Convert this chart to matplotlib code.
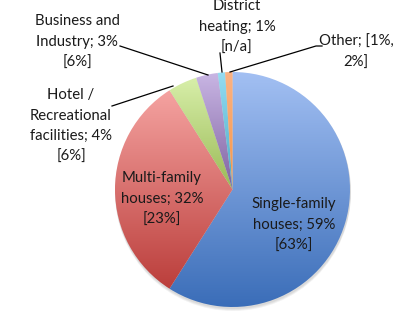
import numpy as np
import matplotlib
matplotlib.use("Agg")
import matplotlib.pyplot as plt
from matplotlib.colors import LinearSegmentedColormap
from matplotlib.patches import Circle

# === Data ===

categories = [
    "Single-family\nhouses",
    "Multi-family\nhouses",
    "Hotel /\nRecreational\nfacilities",
    "Business and\nIndustry",
    "District\nheating",
    "Other",
]
shares = [59, 32, 4, 3, 1, 1]
share_text = ["59%", "32%", "4%", "3%", "1%", ""]
bracket_text = ["[63%]", "[23%]", "[6%]", "[6%]", "[n/a]", "[1%,\n2%]"]

# gradient colours (top, bottom)
top_colors = ["#a3c0f3", "#f5a3a1", "#d8efaa", "#c9b6e4", "#96dcf2", "#fbb385"]
bottom_colors = ["#3a6db8", "#bb3e3b", "#9aba56", "#7f62a1", "#48a9c5", "#f79646"]

# === Layout (pixel units) ===

W, H = 418, 311
cx, cy, R = 232.5, H - 189.5, 117.5

fig = plt.figure(figsize=(W / 100, H / 100), dpi=100)
ax = fig.add_axes([0, 0, 1, 1])

# soft shadow
for i, a in enumerate([0.05, 0.05, 0.05]):
    ax.add_patch(Circle((cx + 0.5, cy - 1.5 - i), R + 0.5, color="black",
                        alpha=a, lw=0, zorder=0))

wedges, _ = ax.pie(shares, startangle=90, counterclock=False,
                   center=(cx, cy), radius=R, frame=True,
                   wedgeprops=dict(linewidth=0))

grad = np.linspace(0, 1, 256).reshape(-1, 1)
for w, c0, c1 in zip(wedges, top_colors, bottom_colors):
    w.set_facecolor("none")
    v = w.get_path().vertices
    y0, y1 = v[:, 1].min(), v[:, 1].max()
    cmap = LinearSegmentedColormap.from_list("g", [c1, c0])
    im = ax.imshow(grad, cmap=cmap, origin="lower", aspect="auto",
                   extent=(cx - R, cx + R, y0, y1), zorder=2,
                   interpolation="bilinear")
    im.set_clip_path(w)

ax.set_xlim(0, W)
ax.set_ylim(0, H)
ax.axis("off")

# === Labels ===

def label_text(i):
    if categories[i] == "Other":
        return "Other; " + bracket_text[i]
    return f"{categories[i]}; {share_text[i]}\n{bracket_text[i]}"

texts = [label_text(i) for i in range(len(shares))]

label_pos = [(294, 225), (162, 199), (71, 126), (77, 42), (237, 27), (356, 52)]
for t, (x, y) in zip(texts, label_pos):
    ax.text(x, H - y, t, ha="center", va="center", fontsize=10.7,
            family="Lato", linespacing=1.6, color="#1a1a1a", zorder=5)

# leader lines
leaders = [
    [(112, 106), (173, 86)],
    [(120, 46), (208, 75)],
    [(220, 53), (222, 72)],
    [(322, 46), (316, 46), (230, 72)],
]
for pts in leaders:
    xs = [p[0] for p in pts]
    ys = [H - p[1] for p in pts]
    ax.plot(xs, ys, color="black", lw=0.9, zorder=4)

plt.savefig("out.png", dpi=100)
